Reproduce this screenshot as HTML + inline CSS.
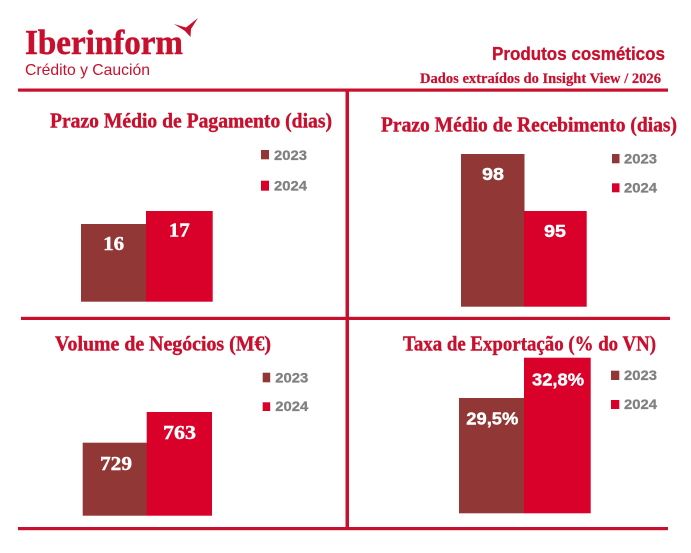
<!DOCTYPE html>
<html>
<head>
<meta charset="utf-8">
<style>
html,body{margin:0;padding:0;background:#fff;}
svg{display:block;}
</style>
</head>
<body>
<svg width="691" height="553" viewBox="0 0 691 553" xmlns="http://www.w3.org/2000/svg">
<rect width="691" height="553" fill="#fff"/>
<!-- Logo -->
<text x="25" y="54" font-family="Liberation Serif, serif" font-weight="bold" font-size="35" fill="#C8102E" stroke="#C8102E" stroke-width="0.5" textLength="158" lengthAdjust="spacingAndGlyphs">Iberinform</text>
<polygon points="174,24 186,27.5 198,18 191,29 190.5,37 185,31" fill="#C8102E"/>
<text x="25" y="75" font-family="Liberation Sans, sans-serif" font-size="16" fill="#C8102E" textLength="125" lengthAdjust="spacingAndGlyphs">Crédito y Caución</text>
<!-- Header right -->
<text x="492" y="60" font-family="Liberation Sans, sans-serif" font-weight="bold" font-size="18.5" fill="#C8102E" stroke="#C8102E" stroke-width="0.3" textLength="173" lengthAdjust="spacingAndGlyphs">Produtos cosméticos</text>
<text x="420" y="83" font-family="Liberation Serif, serif" font-weight="bold" font-size="15" fill="#C8102E" stroke="#C8102E" stroke-width="0.2" textLength="241" lengthAdjust="spacingAndGlyphs">Dados extraídos do Insight View / 2026</text>
<!-- Lines -->
<rect x="18" y="88.5" width="650" height="3.2" fill="#C8102E"/>
<rect x="21" y="316.8" width="649" height="3.2" fill="#C8102E"/>
<rect x="18" y="527" width="650" height="3.2" fill="#C8102E"/>
<rect x="345.5" y="90" width="3.5" height="437" fill="#C8102E"/>

<!-- Panel titles -->
<g font-family="Liberation Serif, serif" font-weight="bold" font-size="21" fill="#C8102E" stroke="#C8102E" stroke-width="0.4">
<text x="50" y="127.7" textLength="282" lengthAdjust="spacingAndGlyphs">Prazo Médio de Pagamento (dias)</text>
<text x="381" y="131.7" textLength="296" lengthAdjust="spacingAndGlyphs">Prazo Médio de Recebimento (dias)</text>
<text x="55" y="350.7" textLength="216" lengthAdjust="spacingAndGlyphs">Volume de Negócios (M€)</text>
<text x="403" y="350.7" textLength="253" lengthAdjust="spacingAndGlyphs">Taxa de Exportação (% do VN)</text>
</g>

<!-- Bars -->
<rect x="81" y="224" width="65.5" height="77.7" fill="#913735"/>
<rect x="146" y="211" width="66.7" height="90.7" fill="#D9002A"/>
<rect x="461" y="154" width="63.5" height="152.7" fill="#913735"/>
<rect x="524" y="211" width="62.7" height="95.7" fill="#D9002A"/>
<rect x="82.7" y="442.7" width="64.5" height="73" fill="#913735"/>
<rect x="146.7" y="412" width="65.3" height="103.7" fill="#D9002A"/>
<rect x="459" y="398" width="65.5" height="115.3" fill="#913735"/>
<rect x="524" y="357.7" width="66.7" height="155.6" fill="#D9002A"/>

<!-- Legend squares -->
<rect x="261" y="150" width="8" height="9.3" fill="#913735"/>
<rect x="261" y="180.7" width="8" height="10" fill="#D9002A"/>
<rect x="612" y="154" width="7.5" height="9.3" fill="#913735"/>
<rect x="612" y="183.3" width="7.5" height="9" fill="#D9002A"/>
<rect x="262.7" y="372.7" width="7.5" height="9.6" fill="#913735"/>
<rect x="262.7" y="402.3" width="7.5" height="8.7" fill="#D9002A"/>
<rect x="611" y="370.7" width="8.3" height="9.3" fill="#913735"/>
<rect x="611" y="400" width="8.3" height="9" fill="#D9002A"/>

<!-- Bar labels -->
<g font-family="Liberation Serif, serif" font-weight="bold" font-size="20" fill="#fff" stroke="#fff" stroke-width="0.4" text-anchor="middle">
<text x="113.7" y="250" textLength="21" lengthAdjust="spacingAndGlyphs">16</text>
<text x="179.3" y="236.5" textLength="21" lengthAdjust="spacingAndGlyphs">17</text>
<text x="116" y="470" textLength="32" lengthAdjust="spacingAndGlyphs">729</text>
<text x="179.5" y="439" textLength="33" lengthAdjust="spacingAndGlyphs">763</text>
</g>
<g font-family="Liberation Sans, sans-serif" font-weight="bold" font-size="17.5" fill="#fff" stroke="#fff" stroke-width="0.4" text-anchor="middle">
<text x="493" y="180" textLength="22" lengthAdjust="spacingAndGlyphs">98</text>
<text x="555" y="237" textLength="22" lengthAdjust="spacingAndGlyphs">95</text>
<text x="492.3" y="424.5" textLength="52" lengthAdjust="spacingAndGlyphs">29,5%</text>
<text x="558" y="385.5" textLength="52" lengthAdjust="spacingAndGlyphs">32,8%</text>
</g>

<!-- Legend texts -->
<g font-family="Liberation Sans, sans-serif" font-weight="bold" font-size="14" fill="#808080" stroke="#808080" stroke-width="0.3">
<text x="274" y="160" textLength="33" lengthAdjust="spacingAndGlyphs">2023</text>
<text x="274" y="190.7" textLength="33" lengthAdjust="spacingAndGlyphs">2024</text>
<text x="624" y="163.5" textLength="33" lengthAdjust="spacingAndGlyphs">2023</text>
<text x="624" y="192.5" textLength="33" lengthAdjust="spacingAndGlyphs">2024</text>
<text x="275.3" y="382.3" textLength="33" lengthAdjust="spacingAndGlyphs">2023</text>
<text x="275.3" y="411" textLength="33" lengthAdjust="spacingAndGlyphs">2024</text>
<text x="624" y="380" textLength="33" lengthAdjust="spacingAndGlyphs">2023</text>
<text x="624" y="409" textLength="33" lengthAdjust="spacingAndGlyphs">2024</text>
</g>
</svg>
</body>
</html>
